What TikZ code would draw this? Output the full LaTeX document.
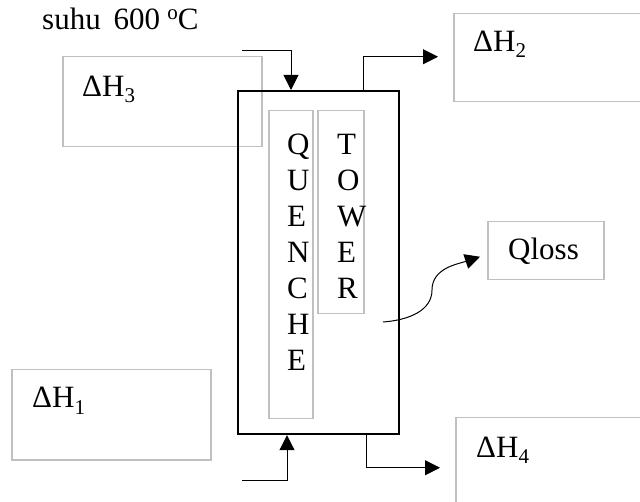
\documentclass[tikz,border=0pt]{standalone}
\usepackage{fontspec}
\setmainfont{Liberation Serif}
\usetikzlibrary{arrows.meta,calc}
\definecolor{boxgray}{RGB}{192,192,192}
\newcommand{\mysub}[1]{\raisebox{-6pt}{\fontsize{21}{21}\selectfont #1}}
\newcommand{\mysup}[1]{\raisebox{10pt}{\fontsize{21}{21}\selectfont #1}}
\begin{document}
\begin{tikzpicture}[x=1pt,y=-1pt,
  txt/.style={font=\fontsize{31}{36}\selectfont, inner sep=0pt, anchor=base west},
  graybox/.style={draw=boxgray, line width=1.5pt, anchor=north west, inner sep=0pt},
  mainbox/.style={draw=black, line width=2.2pt, anchor=north west, inner sep=0pt, minimum width=161pt, minimum height=343pt},
  flow/.style={draw=black, line width=1pt, -{Triangle[length=15pt,width=15pt]}},
]
\useasboundingbox (0,0) rectangle (640,502);
% gray boxes
\node[graybox, minimum width=199pt, minimum height=90pt] (h3box) at (62,56) {};
\node[graybox, minimum width=220pt, minimum height=88pt] (h2box) at (453,13) {};
\node[graybox, minimum width=199pt, minimum height=90pt] (h1box) at (11,369) {};
\node[graybox, minimum width=220pt, minimum height=100pt] (h4box) at (455,417) {};
\node[graybox, minimum width=116pt, minimum height=58pt] (qlossbox) at (487,221) {};
\node[graybox, minimum width=44pt, minimum height=308pt] (quench) at (268,110) {};
\node[graybox, minimum width=46pt, minimum height=203pt] (towerin) at (317,110) {};
% main vessel
\node[mainbox] (tower) at (237,90) {};
% texts
\node[txt] (suhu) at (42,30) {suhu\hspace{13pt}600\hspace{7pt}\mysup{o}C};
\node[txt] (h3) at (82,97) {ΔH\mysub{3}};
\node[txt] (h2) at (473,52) {ΔH\mysub{2}};
\node[txt] (h1) at (32,408) {ΔH\mysub{1}};
\node[txt] (h4) at (476,457) {ΔH\mysub{4}};
\node[txt] (qloss) at (508,260) {Qloss};
\foreach \c [count=\i] in {Q,U,E,N,C,H,E}
  \node[txt] (q\i) at (287,{155+36*(\i-1)}) {\c};
\foreach \c [count=\i] in {T,O,W,E,R}
  \node[txt] (t\i) at (337,{155+36*(\i-1)}) {\c};
% connectors
\coordinate (in3) at (242,51);
\coordinate (in1) at (242,480);
\coordinate (qstart) at (383,322);
\draw[flow] (in3) -| ([xshift=54pt]tower.north west);
\draw[flow] ([xshift=126pt]tower.north west) |- ([xshift=-15pt,yshift=1pt]h2box.west);
\draw[flow] (in1) -| ([xshift=50pt]tower.south west);
\draw[flow] ([xshift=129pt]tower.south west) |- ([xshift=-15pt]h4box.west);
\draw[flow] (qstart) .. controls (410,320) and (432,310) .. (432,290)
  .. controls (432,268) and (458,264) .. ([xshift=-7pt,yshift=-6pt]qlossbox.west);
\end{tikzpicture}
\end{document}
